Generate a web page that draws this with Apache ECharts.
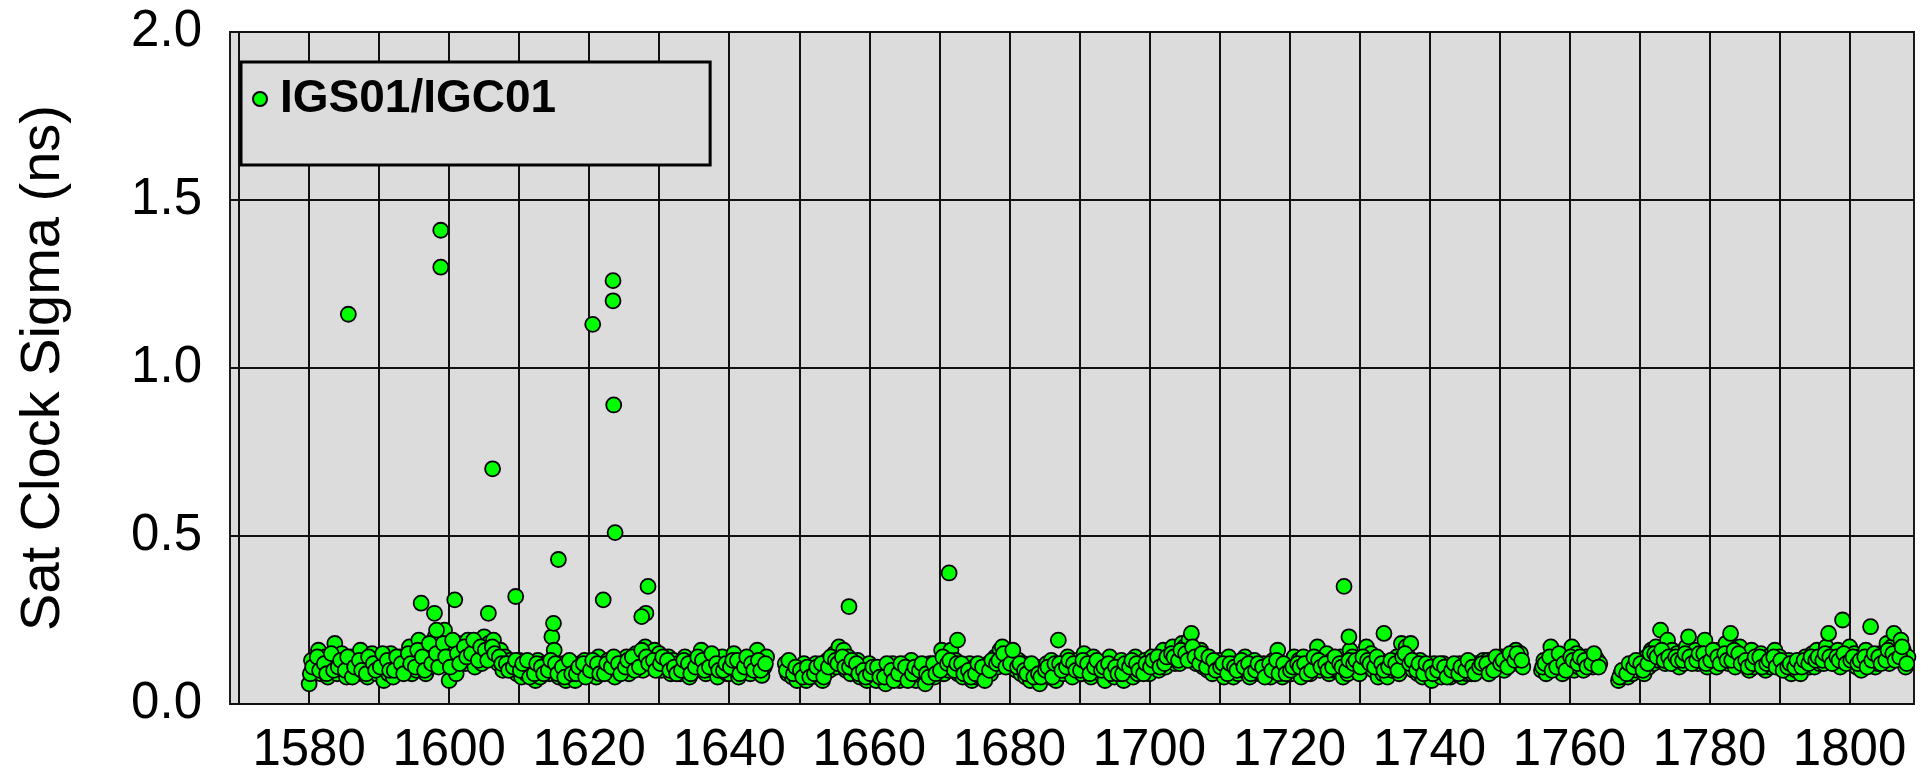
<!DOCTYPE html>
<html>
<head>
<meta charset="utf-8">
<script src="https://cdn.jsdelivr.net/npm/echarts@6/dist/echarts.min.js"></script>
<style>
html,body{margin:0;padding:0;background:#fff;}
#chart{width:1930px;height:779px;}
</style>
</head>
<body>
<div id="chart"></div>
<script>
// ---- data (GPS week vs satellite clock sigma, ns) ----
const seriesName = 'IGS01/IGC01';
const yTitle = 'Sat Clock Sigma (ns)';
const xTickWeeks = [1570,1580,1590,1600,1610,1620,1630,1640,1650,1660,1670,1680,1690,1700,1710,1720,1730,1740,1750,1760,1770,1780,1790,1800];
const xLabelWeeks = [1580,1600,1620,1640,1660,1680,1700,1720,1740,1760,1780,1800];

// weekly samples, segment 1 starts at week 1580 (main samples + in-between samples)
const seg1Start = 1580;
const seg1 = [
[.06,.13,.10],[.12,.16,.09],[.10,.14,.08],[.13,.11,.18],[.09,.12,.15],[.11,.08,.13],[.14,.10,.12],[.09,.16,.11],[.12,.08,.10],[.15,.11,.09],
[.10,.13,.07],[.12,.09,.15],[.08,.11,.13],[.14,.10,.12],[.11,.17,.09],[.13,.10,.19],[.12,.15,.09],[.16,.11,.14],[.20,.13,.17],[.15,.22,.12],
[.07,.16,.13],[.09,.18,.14],[.15,.12,.19],[.13,.17,.11],[.16,.14,.12],[.20,.15,.18],[.14,.19,.13],[.12,.16,.10],[.14,.11,.13],[.10,.12,.09],
[.13,.08,.11],[.09,.12,.10],[.11,.07,.13],[.08,.10,.12],[.12,.09,.20],[.16,.10,.08],[.09,.12,.07],[.11,.08,.10],[.07,.10,.12],[.10,.13,.09],
[.12,.09,.11],[.08,.14,.10],[.11,.10,.13],[.09,.12,.08],[.13,.10,.11],[.10,.14,.09],[.12,.11,.15],[.14,.12,.10],[.17,.13,.15],[.12,.16,.11],
[.15,.10,.13],[.11,.14,.09],[.13,.10,.12],[.09,.12,.14],[.11,.08,.10],[.13,.10,.12],[.16,.11,.09],[.12,.14,.10],[.10,.08,.13],[.14,.11,.09],
[.09,.12,.15],[.11,.08,.10],[.13,.10,.12],[.09,.14,.11],[.16,.12,.085],[.11,.14]
];
const seg1b = [
[.09,.11],[.14,.10],[.12,.09],[.15,.10],[.11,.13],[.10,.14],[.08,.11],[.13,.10],[.09,.14],[.12,.10],
[.11,.15],[.13,.10],[.10,.14],[.12,.09],[.15,.12],[.11,.16],[.14,.10],[.18,.12],[.15,.11],[.18,.14],
[.11,.19],[.15,.12],[.17,.14],[.15,.19],[.13,.17],[.16,.13],[.17,.15],[.14,.12],[.12,.10],[.11,.13],
[.10,.12],[.13,.08],[.09,.12],[.11,.09],[.10,.13],[.12,.09],[.11,.08],[.13,.09],[.09,.11],[.12,.08],
[.10,.13],[.12,.09],[.09,.12],[.11,.14],[.12,.09],[.11,.13],[.14,.10],[.11,.16],[.14,.12],[.13,.10],
[.12,.14],[.13,.10],[.11,.09],[.10,.13],[.12,.09],[.11,.14],[.13,.10],[.11,.15],[.12,.10],[.10,.12],
[.11,.13],[.13,.09],[.11,.14],[.12,.10],[.13,.10],[.12]
];
// segment 2 starts at week 1648
const seg2Start = 1648;
const seg2 = [
[.12,.09,.11],[.08,.10,.07],[.11,.09,.12],[.07,.10,.09],[.10,.12,.08],[.09,.07,.11],[.13,.10,.12],[.15,.11,.17],[.12,.16,.10],[.14,.09,.12],
[.10,.13,.08],[.09,.11,.07],[.12,.08,.10],[.07,.10,.09],[.11,.06,.10],[.09,.12,.08],[.10,.07,.11],[.08,.12,.09],[.13,.10,.07],[.09,.11,.08],
[.06,.10,.12],[.11,.08,.10],[.12,.16,.09],[.14,.10,.16],[.11,.13,.09],[.10,.08,.11],[.09,.12,.07],[.11,.08,.10],[.08,.10,.09],[.12,.09,.11],
[.14,.11,.16],[.17,.13,.12],[.15,.11,.14],[.10,.13,.09],[.12,.08,.11],[.07,.10,.09],[.11,.06,.10],[.09,.12,.08],[.13,.10,.07],[.19,.11,.09],
[.10,.14,.12],[.08,.11,.13],[.12,.09,.15],[.10,.13,.08],[.14,.10,.12],[.09,.12,.07],[.11,.14,.10],[.08,.10,.12],[.13,.07,.10],[.10,.12,.08],
[.14,.09,.11],[.11,.13,.10],[.09,.14,.12],[.12,.10,.15],[.16,.11,.13],[.13,.17,.12],[.15,.12,.18],[.17,.14,.19],[.21,.15,.12],[.14,.16,.11],
[.12,.10,.13],[.09,.12,.11],[.13,.10,.08],[.11,.14,.10],[.08,.12,.09],[.12,.10,.14],[.10,.08,.11],[.13,.11,.09],[.09,.12,.10],[.11,.08,.13],
[.10,.16,.12],[.08,.11,.10],[.12,.09,.14],[.10,.13,.08],[.14,.11,.10],[.09,.12,.13],[.17,.10,.12],[.11,.15,.09],[.13,.10,.12],[.10,.14,.08],
[.12,.09,.16],[.14,.11,.10],[.09,.13,.12],[.17,.11,.15],[.10,.12,.08],[.13,.09,.11],[.08,.12,.10],[.11,.14,.09],[.18,.12,.17],[.14,.18,.10],
[.11,.09,.13],[.08,.11,.10],[.10,.07,.12],[.09,.11,.08],[.12,.09,.10],[.08,.11,.09],[.10,.12,.08],[.11,.09,.12],[.09,.12,.10],[.12,.10,.13],
[.10,.13,.11],[.13,.11,.12],[.11,.14,.10],[.14,.12,.13],[.12,.16,.14],[.15,.11]
];
const seg2b = [
[.10,.13],[.09,.11],[.10,.08],[.11,.08],[.09,.11],[.12,.08],[.11,.14],[.13,.12],[.14,.11],[.11,.13],
[.12,.09],[.10,.08],[.09,.11],[.11,.08],[.08,.12],[.10,.07],[.09,.12],[.11,.07],[.09,.11],[.10,.12],
[.09,.08],[.12,.09],[.10,.14],[.12,.13],[.10,.12],[.12,.09],[.10,.08],[.09,.12],[.11,.07],[.10,.13],
[.12,.13],[.15,.11],[.12,.16],[.11,.12],[.10,.09],[.12,.08],[.09,.08],[.10,.11],[.08,.12],[.12,.10],
[.11,.13],[.12,.10],[.10,.13],[.12,.09],[.11,.13],[.10,.11],[.12,.09],[.11,.09],[.09,.12],[.11,.13],
[.12,.10],[.09,.12],[.11,.13],[.14,.11],[.12,.14],[.15,.14],[.13,.16],[.15,.13],[.17,.14],[.12,.15],
[.11,.14],[.13,.10],[.11,.12],[.09,.12],[.11,.10],[.13,.11],[.12,.09],[.10,.12],[.11,.08],[.12,.10],
[.13,.09],[.12,.09],[.10,.11],[.12,.11],[.12,.09],[.10,.14],[.13,.11],[.12,.10],[.11,.14],[.12,.11],
[.10,.13],[.12,.13],[.11,.14],[.13,.12],[.11,.14],[.12,.10],[.11,.13],[.12,.10],[.14,.15],[.12,.13],
[.10,.12],[.09,.12],[.11,.09],[.10,.12],[.11,.08],[.10,.12],[.09,.11],[.10,.13],[.11,.09],[.11,.12],
[.12,.09],[.10,.14],[.12,.13],[.11,.15],[.13,.15],[.13]
];
// segment 3 starts at week 1756
const seg3Start = 1756;
const seg3 = [
[.10,.13,.09],[.12,.17,.11],[.14,.10,.12],[.09,.13,.11],[.12,.17,.10],[.15,.11,.13],[.10,.14,.12],[.13,.11,.14],[.13,.12]
];
const seg3b = [
[.11,.12],[.14,.10],[.11,.15],[.12,.10],[.14,.13],[.12,.14],[.13,.11],[.12,.15],[.11]
];
// segment 4 starts at week 1767
const seg4Start = 1767;
const seg4 = [
[.07,.09,.08],[.10,.08,.11],[.09,.12,.10],[.11,.13,.09],[.14,.11,.16],[.12,.17,.13],[.22,.14,.12],[.19,.13,.16],[.12,.15,.11],[.14,.12,.17],
[.20,.13,.15],[.16,.12,.14],[.13,.19,.11],[.15,.12,.14],[.11,.16,.13],[.14,.18,.12],[.21,.15,.11],[.13,.17,.14],[.12,.14,.10],[.16,.11,.13],
[.13,.15,.12],[.10,.14,.11],[.12,.16,.13],[.14,.11,.12],[.10,.13,.09],[.12,.10,.11],[.09,.12,.14],[.13,.11,.15],[.11,.16,.12],[.14,.12,.17],
[.21,.13,.15],[.12,.16,.11],[.25,.14,.13],[.17,.12,.15],[.11,.14,.10],[.13,.16,.12],[.23,.14,.11],[.12,.15,.13],[.14,.18,.12],[.17,.21,.15],
[.13,.19,.16],[.11,.14]
];
const seg4b = [
[.08,.10],[.09,.12],[.11,.13],[.12,.10],[.12,.15],[.15,.14],[.16,.13],[.14,.12],[.14,.13],[.13,.15],
[.14,.12],[.13,.15],[.15,.12],[.13,.16],[.14,.12],[.15,.13],[.13,.16],[.15,.12],[.13,.11],[.12,.14],
[.14,.11],[.12,.13],[.14,.11],[.13,.10],[.11,.12],[.11,.13],[.11,.13],[.12,.14],[.13,.14],[.13,.15],
[.14,.12],[.14,.13],[.15,.12],[.13,.14],[.12,.13],[.14,.11],[.13,.15],[.14,.12],[.13,.16],[.15,.13],
[.14,.17],[.12]
];
// isolated large values [week, sigma]
const outliers = [
[1585.6,1.16],[1598.8,1.41],[1598.8,1.30],[1606.2,0.70],[1620.5,1.13],[1623.4,1.26],[1623.4,1.20],
[1623.5,0.89],[1623.7,0.51],[1622.0,0.31],[1615.6,0.43],[1609.5,0.32],[1600.8,0.31],[1596.0,0.30],
[1597.9,0.27],[1605.6,0.27],[1628.4,0.35],[1628.1,0.27],[1627.5,0.26],[1614.9,0.24],[1598.2,0.22],
[1657.1,0.29],[1671.4,0.39],[1672.6,0.19],[1727.8,0.35],[1728.5,0.20],[1733.5,0.21]
];

// ---- build point list ----
function addSegment(start, weeks, offset, out) {
  weeks.forEach(function (vals, i) {
    vals.forEach(function (v, j) { out.push([start + i + offset + j / 3, v]); });
  });
}
const points = [];
addSegment(seg1Start, seg1, 0, points);
addSegment(seg1Start, seg1b, 1 / 6, points);
addSegment(seg2Start, seg2, 0, points);
addSegment(seg2Start, seg2b, 1 / 6, points);
addSegment(seg3Start, seg3, 0, points);
addSegment(seg3Start, seg3b, 1 / 6, points);
addSegment(seg4Start, seg4, 0, points);
addSegment(seg4Start, seg4b, 1 / 6, points);
outliers.forEach(function (p) { points.push(p); });

const FONT = "'Liberation Sans', Arial, Helvetica, sans-serif";
const chart = echarts.init(document.getElementById('chart'), null, {renderer: 'canvas'});
chart.setOption({
  animation: false,
  backgroundColor: '#ffffff',
  grid: {
    left: 230, right: 16, top: 32, bottom: 75,
    show: true, backgroundColor: '#dcdcdc', borderColor: '#1a1a1a', borderWidth: 2
  },
  legend: {
    show: true,
    left: 241, top: 62,
    orient: 'horizontal',
    padding: [14, 154, 43, 11],
    backgroundColor: '#dcdcdc',
    borderColor: '#000', borderWidth: 3,
    itemWidth: 30, itemHeight: 14,
    textStyle: {fontFamily: FONT, fontWeight: 'bold', fontSize: 46, lineHeight: 46, color: '#000'},
    data: [seriesName]
  },
  xAxis: {
    type: 'value',
    min: 1568.7, max: 1809.2,
    axisLine: {show: false},
    axisTick: {show: false, customValues: xTickWeeks},
    splitLine: {show: true, lineStyle: {color: '#111', width: 2}},
    axisLabel: {
      customValues: xLabelWeeks,
      formatter: function (v) { return String(v); },
      fontFamily: FONT, fontSize: 51, lineHeight: 50, color: '#000', margin: 22
    }
  },
  yAxis: {
    type: 'value',
    min: 0, max: 2, interval: 0.5,
    name: yTitle,
    nameLocation: 'middle',
    nameRotate: 90,
    nameGap: 158,
    nameTextStyle: {fontFamily: FONT, fontSize: 56, color: '#000', lineHeight: 56},
    axisLine: {show: false},
    axisTick: {show: false},
    splitLine: {show: true, lineStyle: {color: '#111', width: 2}},
    axisLabel: {
      fontFamily: FONT, fontSize: 51, color: '#000', margin: 28,
      formatter: function (v) { return v.toFixed(1); }
    }
  },
  series: [{
    name: seriesName,
    type: 'scatter',
    data: points,
    symbol: 'circle',
    symbolSize: 15,
    itemStyle: {color: '#00ff00', borderColor: '#000', borderWidth: 1.8, opacity: 1},
    emphasis: {disabled: true}
  }]
});
</script>
</body>
</html>
